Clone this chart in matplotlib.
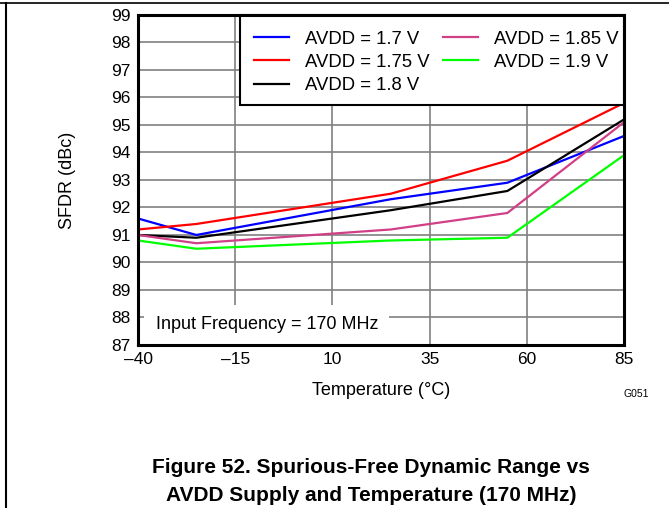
import matplotlib
matplotlib.use("Agg")
import matplotlib.pyplot as plt
from matplotlib.lines import Line2D
from matplotlib.patches import Rectangle

plt.rcParams['font.family'] = ['Liberation Sans', 'DejaVu Sans']

# temperature points (deg C)
temps = [-40, -25, 25, 55, 85]

# SFDR (dBc) per supply voltage
sfdr_17 = [91.6, 91.0, 92.3, 92.9, 94.6]
sfdr_175 = [91.2, 91.4, 92.5, 93.7, 95.8]
sfdr_18 = [91.0, 90.9, 91.9, 92.6, 95.2]
sfdr_185 = [91.0, 90.7, 91.2, 91.8, 95.1]
sfdr_19 = [90.8, 90.5, 90.8, 90.9, 93.9]

labels = ['AVDD = 1.7 V', 'AVDD = 1.75 V', 'AVDD = 1.8 V',
          'AVDD = 1.85 V', 'AVDD = 1.9 V']
colors = ['#0000FF', '#FF0000', '#000000', '#D13F86', '#00FF00']
series = [sfdr_17, sfdr_175, sfdr_18, sfdr_185, sfdr_19]

x_ticks = [-40, -15, 10, 35, 60, 85]
y_ticks = list(range(87, 100))

fig = plt.figure(figsize=(6.69, 5.08), dpi=100)
ax = fig.add_axes([0.2063, 0.3209, 0.7264, 0.6496])

for vals, lab, col in zip(series, labels, colors):
    ax.plot(temps, vals, color=col, lw=1.6, label=lab, zorder=3,
            solid_joinstyle='miter')

ax.set_xlim(-40, 85)
ax.set_ylim(87, 99)
ax.set_xticks(x_ticks)
ax.set_xticklabels([str(t).replace('-', '\u2013') for t in x_ticks])
ax.set_yticks(y_ticks)
ax.tick_params(length=0, labelsize=12.5)
ax.tick_params(axis='y', pad=5.5)
ax.tick_params(axis='x', pad=5)
ax.grid(True, color='#808080', lw=1.2, zorder=1)
ax.set_axisbelow(True)
for s in ax.spines.values():
    s.set_linewidth(2.2)
    s.set_zorder(6)

ax.set_xlabel('Temperature (\u00b0C)', fontsize=13, labelpad=11)
ax.set_ylabel('SFDR (dBc)', fontsize=13, labelpad=25)

# legend box drawn by hand so the padding matches
ax.add_patch(Rectangle((0.21, 0.727), 0.79, 0.273, transform=ax.transAxes,
                       facecolor='white', edgecolor='black', lw=1.5,
                       zorder=4.5, clip_on=False))
leg = ax.legend(ncol=2, loc='upper left', bbox_to_anchor=(0.238, 0.952),
                borderaxespad=0, fontsize=13.3, frameon=False,
                handlelength=1.9, handletextpad=0.9, columnspacing=0.68,
                labelspacing=0.33, borderpad=0)
leg.set_zorder(5)

ax.text(-35.5, 87.75, 'Input Frequency = 170 MHz', fontsize=13,
        va='center', ha='left', zorder=4,
        bbox=dict(facecolor='white', edgecolor='none', pad=8))

fig.text(0.932, 0.224, 'G051', fontsize=7.5, ha='left', va='center')
fig.text(0.555, 0.079, 'Figure 52. Spurious-Free Dynamic Range vs',
         fontsize=15, fontweight='bold', ha='center', va='center')
fig.text(0.555, 0.024, 'AVDD Supply and Temperature (170 MHz)',
         fontsize=15, fontweight='bold', ha='center', va='center')

# page frame lines
fig.add_artist(Line2D([0, 1], [0.994, 0.994], color='black', lw=1.2))
fig.add_artist(Line2D([0.009, 0.009], [0, 0.994], color='black', lw=1.5))

fig.savefig('out.png', dpi=100)
